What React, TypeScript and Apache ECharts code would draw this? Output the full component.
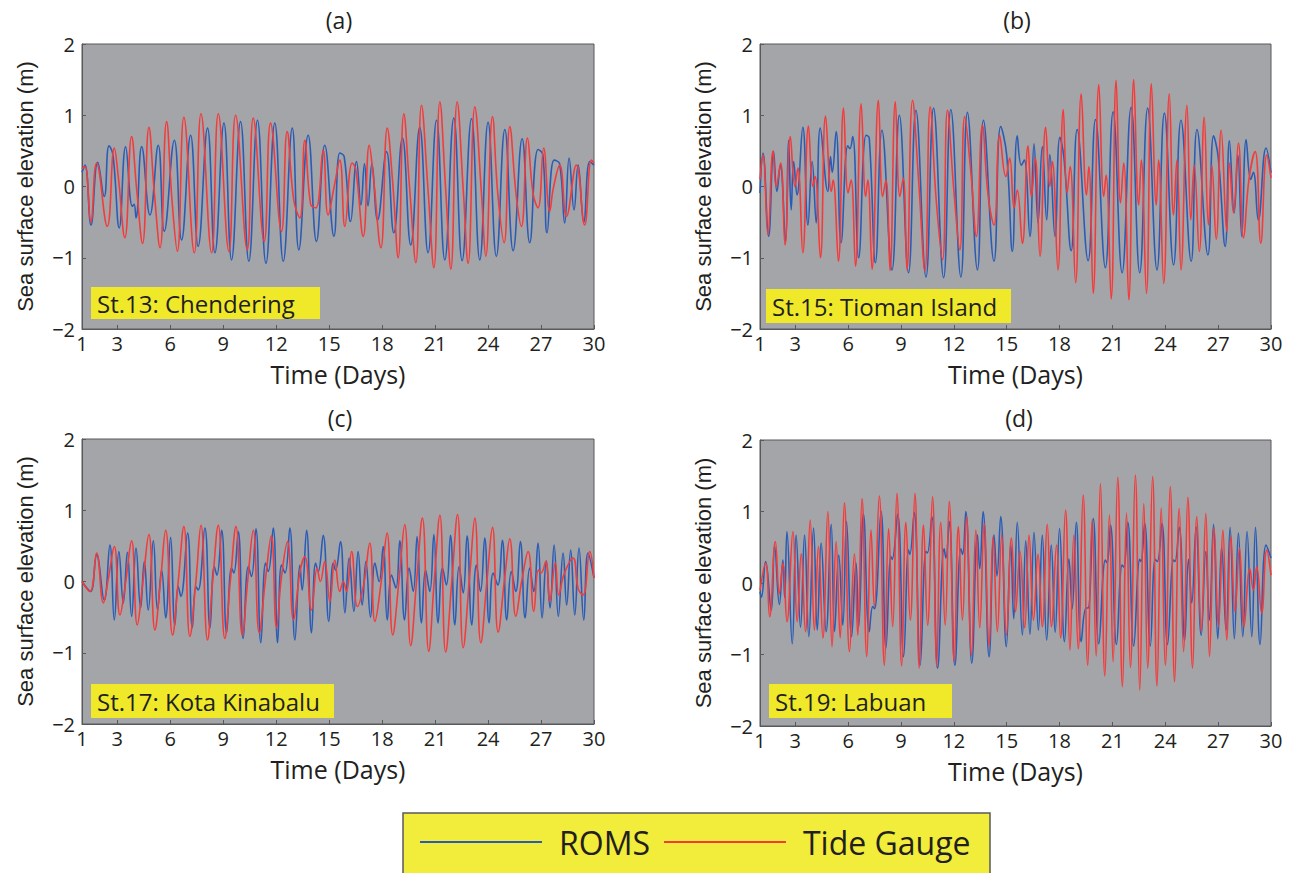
import React, { useEffect, useRef } from "react";
import * as echarts from "echarts";

// ---------- data (time in days, sea surface elevation in m) ----------
const xTicks = [1, 3, 6, 9, 12, 15, 18, 21, 24, 27, 30];
const panelTitles = ["(a)", "(b)", "(c)", "(d)"];
const stationNames = ["St.13: Chendering", "St.15: Tioman Island", "St.17: Kota Kinabalu", "St.19: Labuan"];
const seriesNames = ["ROMS", "Tide Gauge"];

const aRoms = [[1.0,0.20],[1.17,0.30],[1.51,-0.54],[1.89,0.34],[2.26,-0.14],[2.53,0.57],[2.75,0.45],[3.11,-0.58],[3.47,0.56],[3.85,-0.28],[3.95,-0.25],[4.06,-0.44],[4.38,0.56],[4.85,-0.40],[5.32,0.58],[5.66,-0.63],[6.23,0.65],[6.64,-0.75],[7.15,0.72],[7.58,-0.84],[8.11,0.82],[8.53,-0.93],[9.04,0.89],[9.47,-1.03],[9.98,0.91],[10.45,-1.05],[10.94,0.93],[11.42,-1.08],[11.92,0.89],[12.40,-1.05],[12.91,0.82],[13.28,-0.89],[13.81,0.72],[14.28,-0.77],[14.75,0.58],[15.27,-0.70],[15.6,0.47],[15.85,0.42],[16.21,-0.49],[16.55,0.35],[16.8,-0.26],[17.0,0.32],[17.2,-0.27],[17.42,0.32],[17.74,-0.47],[18.25,0.49],[18.66,-0.65],[19.15,0.68],[19.62,-0.82],[20.13,0.83],[20.6,-0.93],[21.08,0.93],[21.55,-1.03],[22.06,0.96],[22.53,-1.04],[23.06,0.95],[23.53,-1.03],[24.0,0.90],[24.47,-0.98],[24.95,0.80],[25.42,-0.90],[25.93,0.67],[26.36,-0.79],[26.83,0.52],[27.1,0.45],[27.34,-0.65],[27.74,0.37],[28.05,0.32],[28.34,-0.51],[28.59,0.40],[28.87,-0.33],[29.1,0.30],[29.42,-0.50],[29.76,0.35],[30.0,0.30]];
const aTide = [[1.0,0.25],[1.17,0.28],[1.5,-0.50],[1.83,0.33],[2.43,-0.56],[2.83,0.54],[3.05,0.15],[3.43,-0.72],[3.81,0.70],[4.1,-0.05],[4.43,-0.80],[4.79,0.83],[5.1,-0.10],[5.42,-0.86],[5.79,0.91],[6.1,-0.20],[6.40,-0.91],[6.77,0.97],[7.36,-0.93],[7.74,1.02],[8.34,-0.93],[8.72,1.02],[9.32,-0.91],[9.70,1.00],[10.36,-0.89],[10.70,0.96],[11.32,-0.77],[11.68,0.89],[12.30,-0.63],[12.62,0.77],[13.0,-0.20],[13.34,-0.44],[13.62,0.65],[13.95,-0.25],[14.25,-0.30],[14.66,0.51],[14.94,-0.40],[15.3,0.02],[15.6,0.37],[15.89,-0.56],[16.3,0.33],[16.5,0.25],[16.93,-0.70],[17.27,0.58],[17.5,0.14],[17.93,-0.86],[18.29,0.82],[18.6,0.05],[18.91,-1.00],[19.23,1.02],[19.55,0.0],[19.91,-1.07],[20.23,1.14],[20.6,-0.05],[20.93,-1.14],[21.27,1.19],[21.6,-0.05],[21.89,-1.16],[22.25,1.19],[22.6,-0.07],[22.87,-1.08],[23.25,1.12],[23.62,-0.07],[23.87,-0.98],[24.25,0.98],[24.55,-0.10],[24.91,-0.79],[25.23,0.84],[25.6,-0.14],[25.89,-0.56],[26.23,0.68],[26.55,-0.10],[26.83,-0.30],[27.15,0.54],[27.49,-0.35],[27.7,-0.02],[28.06,0.30],[28.44,-0.42],[29.0,0.30],[29.47,-0.54],[29.85,0.37],[30.0,0.33]];

const bRoms = [[1.0,-0.09],[1.17,0.47],[1.49,-0.70],[1.77,0.49],[1.96,-0.07],[2.15,0.30],[2.45,-0.77],[2.62,0.65],[2.77,-0.33],[2.91,0.35],[3.1,-0.12],[3.43,0.83],[3.72,-0.54],[3.96,0.35],[4.19,-0.51],[4.42,0.82],[4.85,-0.07],[5.0,0.42],[5.1,0.20],[5.32,0.77],[5.6,-0.79],[5.98,0.57],[6.1,0.53],[6.26,0.70],[6.6,-1.00],[7.02,0.72],[7.2,0.68],[7.55,-1.07],[7.92,0.79],[8.49,-1.17],[8.91,1.00],[9.43,-1.21],[9.85,1.07],[10.42,-1.27],[10.85,1.10],[11.42,-1.28],[11.83,1.08],[12.4,-1.27],[12.77,1.04],[13.34,-1.17],[13.68,0.93],[14.28,-1.05],[14.66,0.84],[15.0,0.44],[15.32,-0.91],[15.6,0.71],[15.83,0.30],[16.0,0.37],[16.32,-0.70],[16.55,0.60],[16.78,-0.51],[17.02,0.56],[17.27,-0.47],[17.45,0.45],[17.74,-0.70],[18.02,0.69],[18.25,0.40],[18.66,-0.90],[19.0,0.80],[19.62,-1.04],[20.04,0.94],[20.6,-1.14],[21.04,1.05],[21.55,-1.21],[22.06,1.11],[22.55,-1.21],[23.0,1.10],[23.53,-1.17],[23.95,1.03],[24.47,-1.10],[24.89,0.93],[25.47,-1.05],[25.8,0.80],[26.42,-0.96],[26.74,0.71],[27.0,0.42],[27.4,-0.84],[27.64,0.64],[27.91,-0.37],[28.12,0.44],[28.34,-0.70],[28.59,0.66],[28.85,0.10],[29.0,0.20],[29.28,-0.47],[29.72,0.54],[30.0,0.19]];
const bTide = [[1.0,0.10],[1.17,0.44],[1.45,-0.68],[1.74,0.50],[1.92,0.0],[2.17,0.33],[2.42,-0.82],[2.72,0.70],[2.98,0.0],[3.15,0.26],[3.43,-0.93],[3.75,0.85],[4.0,0.0],[4.13,0.14],[4.43,-1.00],[4.72,0.99],[5.05,-0.07],[5.15,0.09],[5.45,-1.05],[5.74,1.10],[6.0,-0.09],[6.17,0.09],[6.42,-1.12],[6.74,1.16],[7.0,-0.14],[7.12,0.09],[7.36,-1.16],[7.72,1.21],[7.96,-0.14],[8.15,0.09],[8.38,-1.18],[8.68,1.19],[8.94,-0.14],[9.13,0.12],[9.34,-1.17],[9.66,1.21],[10.0,0.09],[10.36,-1.18],[10.66,1.12],[11.0,-0.19],[11.36,-1.03],[11.64,1.07],[12.0,-0.05],[12.34,-0.89],[12.62,0.98],[12.97,0.19],[13.28,-0.70],[13.62,0.86],[13.95,-0.14],[14.28,-0.54],[14.6,0.72],[14.95,0.14],[15.17,0.40],[15.42,-0.30],[15.6,-0.05],[15.89,-0.80],[16.21,0.57],[16.4,-0.14],[16.62,0.40],[16.89,-0.98],[17.21,0.83],[17.45,0.0],[17.59,0.35],[17.91,-1.17],[18.21,1.08],[18.43,-0.09],[18.6,0.28],[18.91,-1.35],[19.23,1.30],[19.53,-0.12],[19.66,0.28],[19.91,-1.50],[20.23,1.43],[20.51,-0.14],[20.64,0.16],[20.93,-1.58],[21.21,1.49],[21.46,-0.23],[21.64,0.33],[21.93,-1.59],[22.21,1.50],[22.49,-0.26],[22.64,0.37],[22.93,-1.50],[23.21,1.44],[23.49,-0.26],[23.62,0.37],[23.91,-1.36],[24.23,1.30],[24.47,-0.40],[24.66,0.37],[24.89,-1.17],[25.23,1.14],[25.45,-0.47],[25.64,0.30],[25.93,-0.91],[26.21,0.97],[26.45,-0.54],[26.64,0.30],[26.89,-0.74],[27.17,0.79],[27.49,-0.63],[27.64,0.33],[27.87,-0.37],[28.15,0.61],[28.44,-0.72],[28.75,0.10],[29.1,0.49],[29.42,-0.80],[29.76,0.44],[30.0,0.12]];

const cRoms = [[1.0,0.0],[1.3,-0.10],[1.5,-0.14],[1.83,0.37],[2.26,-0.26],[2.58,0.51],[2.83,-0.54],[3.09,0.42],[3.34,-0.30],[3.57,0.41],[3.81,-0.49],[4.06,0.47],[4.32,-0.37],[4.53,0.28],[4.75,-0.40],[5.04,0.57],[5.28,-0.40],[5.51,0.16],[5.74,-0.51],[6.02,0.62],[6.26,-0.61],[6.45,-0.07],[6.6,-0.21],[6.98,0.68],[7.25,-0.65],[7.45,-0.07],[7.58,-0.12],[7.96,0.75],[8.25,-0.65],[8.49,0.21],[8.64,0.09],[8.91,0.72],[9.19,-0.72],[9.47,0.19],[9.6,0.12],[9.85,0.70],[10.13,-0.80],[10.42,0.21],[10.6,0.07],[10.85,0.74],[11.13,-0.86],[11.4,0.26],[11.55,0.14],[11.83,0.75],[12.08,-0.86],[12.3,0.23],[12.5,0.12],[12.77,0.75],[13.06,-0.82],[13.34,0.23],[13.47,-0.12],[13.72,0.72],[14.0,-0.72],[14.23,0.26],[14.38,0.14],[14.66,0.65],[14.98,-0.56],[15.23,0.26],[15.36,0.16],[15.64,0.56],[15.89,-0.44],[16.13,0.33],[16.4,-0.42],[16.64,0.42],[16.87,-0.33],[17.08,0.28],[17.34,-0.50],[17.59,0.26],[17.83,0.0],[18.06,0.49],[18.29,-0.54],[18.53,0.09],[18.78,-0.09],[19.0,0.57],[19.27,-0.54],[19.53,0.19],[19.76,-0.14],[19.98,0.63],[20.23,-0.58],[20.46,0.16],[20.7,-0.14],[20.93,0.66],[21.17,-0.58],[21.42,0.19],[21.64,-0.05],[21.87,0.65],[22.12,-0.61],[22.36,0.21],[22.59,-0.16],[22.81,0.64],[23.08,-0.61],[23.34,0.23],[23.57,-0.14],[23.81,0.61],[24.06,-0.58],[24.29,0.12],[24.55,-0.05],[24.81,0.58],[25.06,-0.54],[25.32,0.14],[25.57,-0.14],[25.83,0.56],[26.1,-0.51],[26.36,0.19],[26.59,-0.14],[26.83,0.54],[27.06,-0.51],[27.3,0.29],[27.51,-0.37],[27.74,0.51],[27.98,-0.49],[28.25,0.40],[28.45,-0.33],[28.68,0.44],[28.91,-0.47],[29.15,0.47],[29.42,-0.54],[29.66,0.40],[30.0,0.05]];
const cTide = [[1.0,0.0],[1.45,-0.14],[1.83,0.40],[2.21,-0.30],[2.5,0.05],[2.83,0.49],[3.15,-0.47],[3.45,-0.05],[3.81,0.57],[4.13,-0.61],[4.45,0.0],[4.79,0.66],[5.13,-0.68],[5.45,0.02],[5.74,0.72],[6.13,-0.75],[6.45,0.0],[6.77,0.77],[7.11,-0.77],[7.45,0.0],[7.74,0.79],[8.11,-0.82],[8.4,0.0],[8.72,0.79],[9.09,-0.80],[9.4,0.0],[9.72,0.77],[10.08,-0.75],[10.4,0.05],[10.7,0.72],[11.04,-0.72],[11.4,0.05],[11.72,0.64],[12.02,-0.65],[12.3,0.07],[12.64,0.56],[12.98,-0.54],[13.35,0.14],[13.62,0.35],[14.0,-0.40],[14.32,0.19],[14.5,0.0],[14.75,0.28],[15.04,-0.28],[15.32,0.30],[15.6,-0.14],[15.8,0.0],[15.98,-0.14],[16.27,0.42],[16.6,-0.35],[16.95,-0.05],[17.3,0.54],[17.59,-0.56],[17.95,0.0],[18.28,0.68],[18.6,-0.75],[18.95,0.0],[19.28,0.80],[19.62,-0.90],[19.95,0.0],[20.28,0.89],[20.64,-0.98],[20.95,0.0],[21.27,0.93],[21.6,-0.99],[21.95,0.02],[22.27,0.94],[22.59,-0.93],[22.95,0.05],[23.25,0.89],[23.59,-0.86],[23.95,0.05],[24.25,0.76],[24.57,-0.71],[24.95,0.07],[25.23,0.60],[25.57,-0.49],[25.9,0.0],[26.27,0.42],[26.59,-0.42],[26.85,0.16],[27.0,0.12],[27.27,0.28],[27.49,-0.28],[27.81,0.26],[28.0,-0.19],[28.3,0.10],[28.81,0.33],[29.1,-0.10],[29.38,-0.19],[29.76,0.42],[30.0,0.05]];

const dRoms = [[1.0,-0.12],[1.08,-0.20],[1.32,0.30],[1.64,-0.38],[1.83,0.51],[2.1,-0.30],[2.3,0.32],[2.4,-0.20],[2.53,0.72],[2.83,-0.85],[3.05,0.67],[3.3,-0.62],[3.53,0.67],[3.77,-0.75],[4.04,0.77],[4.25,-0.66],[4.47,0.56],[4.75,-0.68],[5.04,0.82],[5.23,-0.68],[5.47,0.39],[5.7,-0.59],[5.91,0.86],[6.2,-0.75],[6.45,0.28],[6.6,-0.61],[6.87,0.96],[7.2,-0.68],[7.4,-0.33],[7.5,-0.36],[7.87,1.00],[8.15,-0.91],[8.43,0.37],[8.5,0.33],[8.81,0.96],[9.15,-1.03],[9.43,0.46],[9.5,0.40],[9.75,0.99],[10.09,-1.15],[10.42,0.44],[10.5,0.42],[10.75,0.93],[11.08,-1.19],[11.45,0.48],[11.55,0.35],[11.74,0.86],[12.06,-1.15],[12.4,0.48],[12.5,0.40],[12.68,1.00],[13.02,-1.12],[13.34,0.67],[13.47,0.20],[13.66,1.00],[14.0,-1.03],[14.28,0.67],[14.45,0.10],[14.66,0.93],[14.98,-0.89],[15.23,0.54],[15.4,-0.50],[15.6,0.85],[15.89,-0.73],[16.08,0.59],[16.32,-0.72],[16.55,0.71],[16.8,-0.66],[17.02,0.67],[17.27,-0.80],[17.53,0.53],[17.75,-0.69],[18.0,0.76],[18.28,-0.82],[18.53,0.34],[18.72,-0.36],[18.95,0.85],[19.23,-0.82],[19.5,-0.35],[19.62,-0.35],[19.91,0.90],[20.23,-0.85],[20.6,0.32],[20.7,0.28],[20.89,0.81],[21.23,-0.86],[21.55,0.25],[21.65,0.22],[21.87,0.85],[22.21,-0.88],[22.55,0.33],[22.62,0.30],[22.83,0.83],[23.15,-0.88],[23.43,0.33],[23.55,0.30],[23.81,0.83],[24.13,-0.86],[24.47,0.32],[24.55,0.30],[24.79,0.78],[25.1,-0.80],[25.32,0.33],[25.5,-0.28],[25.75,0.78],[26.04,-0.73],[26.3,0.44],[26.5,-0.52],[26.74,0.82],[26.98,-0.78],[27.2,0.50],[27.45,-0.66],[27.68,0.78],[27.92,-0.78],[28.15,0.70],[28.4,-0.75],[28.64,0.72],[28.91,-0.75],[29.12,0.78],[29.38,-0.86],[29.72,0.53],[30.0,0.35]];
const dTide = [[1.0,-0.10],[1.32,0.28],[1.55,-0.47],[1.87,0.58],[2.1,-0.15],[2.3,0.28],[2.53,-0.54],[2.87,0.72],[3.11,-0.54],[3.34,0.41],[3.58,-0.68],[3.85,0.88],[4.09,-0.66],[4.32,0.51],[4.57,-0.77],[4.85,1.00],[5.09,-0.89],[5.32,0.58],[5.55,-0.77],[5.79,1.12],[6.08,-0.96],[6.36,0.41],[6.55,-0.73],[6.79,1.18],[7.06,-1.03],[7.3,0.74],[7.49,-0.33],[7.77,1.22],[8.06,-1.15],[8.3,0.76],[8.53,-0.61],[8.77,1.25],[9.04,-1.16],[9.28,0.85],[9.53,-0.52],[9.79,1.25],[10.04,-1.19],[10.28,0.81],[10.51,-0.59],[10.79,1.21],[11.02,-1.17],[11.26,0.85],[11.51,-0.59],[11.74,1.14],[12.02,-1.10],[12.26,0.79],[12.49,-0.52],[12.72,0.93],[13.0,-1.01],[13.25,0.74],[13.47,-0.63],[13.72,0.83],[14.0,-0.89],[14.23,0.65],[14.47,-0.68],[14.72,0.67],[14.98,-0.73],[15.27,0.63],[15.5,-0.40],[15.76,0.44],[16.02,-0.63],[16.27,0.67],[16.52,-0.52],[16.78,0.40],[17.02,-0.61],[17.3,0.82],[17.55,-0.61],[17.83,0.53],[18.06,-0.77],[18.34,1.02],[18.59,-0.94],[18.81,0.67],[19.06,-0.92],[19.34,1.23],[19.6,-1.15],[19.85,0.88],[20.08,-1.02],[20.32,1.39],[20.57,-1.30],[20.83,0.95],[21.04,-1.10],[21.3,1.48],[21.57,-1.45],[21.8,0.98],[22.02,-1.18],[22.3,1.51],[22.55,-1.50],[22.78,1.11],[23.0,-1.19],[23.28,1.49],[23.53,-1.44],[23.77,1.05],[24.0,-1.15],[24.28,1.35],[24.53,-1.38],[24.79,1.04],[25.04,-0.96],[25.28,1.20],[25.55,-1.19],[25.79,0.93],[26.04,-0.68],[26.3,0.97],[26.51,-1.03],[26.77,0.77],[27.02,-0.61],[27.27,0.74],[27.49,-0.80],[27.72,0.65],[27.96,-0.40],[28.21,0.49],[28.47,-0.61],[28.8,0.20],[29.0,-0.10],[29.19,0.23],[29.47,-0.42],[29.76,0.46],[30.0,0.11]];

const romsData = [aRoms, bRoms, cRoms, dRoms];
const tideData = [aTide, bTide, cTide, dTide];

// ---------- styling / layout ----------
const BLUE = "#2b5cb5";
const RED = "#f23c3c";
const PLOT_BG = "#a4a5a9";
const YELLOW = "#efe92a";
const INK = "#231f20";
const SANS = "'Open Sans', 'Noto Sans', sans-serif";

const grids = [
  { left: 82, top: 44, width: 512, height: 285 },
  { left: 760, top: 44, width: 511, height: 285 },
  { left: 82, top: 439, width: 512, height: 285 },
  { left: 760, top: 440, width: 511, height: 286 },
];
const titlePos = [[339, 20], [1017, 20], [340, 418], [1019, 418]];
const boxPos = [
  { x: 91, y: 287, w: 229, h: 32 },
  { x: 766, y: 289, w: 245, h: 34 },
  { x: 91, y: 684, w: 243, h: 34 },
  { x: 769, y: 684, w: 183, h: 34 },
];

const fmtY = (v: number) => (v < 0 ? "\u2212" + Math.abs(v) : String(v));

export default function App() {
  const ref = useRef<HTMLDivElement>(null);
  useEffect(() => {
    if (!ref.current) return;
    const chart = echarts.init(ref.current, undefined, { renderer: "svg" });

    const xAxis = grids.map((_, i) => ({
      type: "value",
      gridIndex: i,
      min: 1,
      max: 30,
      name: "Time (Days)",
      nameLocation: "middle",
      nameGap: 32,
      nameTextStyle: { fontFamily: SANS, fontSize: 25, color: INK, lineHeight: 25 },
      axisLine: { show: true, onZero: false, lineStyle: { color: "#58595b", width: 1 } },
      axisTick: { show: true, inside: true, length: 4, customValues: xTicks, lineStyle: { color: "#58595b" } },
      axisLabel: { customValues: xTicks, fontFamily: SANS, fontSize: 20, color: INK, margin: 4, lineHeight: 20 },
      splitLine: { show: false },
    }));
    const yAxis = grids.map((_, i) => ({
      type: "value",
      gridIndex: i,
      min: -2,
      max: 2,
      interval: 1,
      name: "Sea surface elevation (m)",
      nameLocation: "middle",
      nameGap: 46,
      nameTextStyle: { fontFamily: "'Liberation Sans', Arial, sans-serif", fontSize: 22, color: INK },
      axisLine: { show: true, onZero: false, lineStyle: { color: "#58595b", width: 1 } },
      axisTick: { show: true, inside: true, length: 4, lineStyle: { color: "#58595b" } },
      axisLabel: { formatter: fmtY, fontFamily: SANS, fontSize: 20, color: INK, margin: 7 },
      splitLine: { show: false },
    }));

    const series: any[] = [];
    grids.forEach((_, i) => {
      series.push({
        name: seriesNames[0], type: "line", xAxisIndex: i, yAxisIndex: i,
        data: romsData[i], showSymbol: false, symbol: "none", smooth: 0.45,
        lineStyle: { color: BLUE, width: 1.6 }, itemStyle: { color: BLUE }, z: 2,
      });
      series.push({
        name: seriesNames[1], type: "line", xAxisIndex: i, yAxisIndex: i,
        data: tideData[i], showSymbol: false, symbol: "none", smooth: 0.45,
        lineStyle: { color: RED, width: 1.6 }, itemStyle: { color: RED }, z: 3,
      });
    });

    const graphic: any[] = [];
    titlePos.forEach(([x, y], i) => {
      graphic.push({
        type: "text", x, y, z: 10,
        style: { text: panelTitles[i], fontFamily: SANS, fontSize: 23, fill: INK, align: "center", verticalAlign: "middle" },
      });
    });
    boxPos.forEach((b, i) => {
      graphic.push({ type: "rect", z: 50, shape: { x: b.x, y: b.y, width: b.w, height: b.h }, style: { fill: YELLOW } });
      graphic.push({
        type: "text", z: 51, x: b.x + 6, y: b.y + b.h / 2,
        style: { text: stationNames[i], fontFamily: SANS, fontSize: 24, fill: INK, align: "left", verticalAlign: "middle" },
      });
    });
    graphic.push({
      type: "rect", z: 0,
      shape: { x: 403, y: 813, width: 587, height: 80 },
      style: { fill: "#f2ec3a", stroke: "#58595b", lineWidth: 1.5 },
    });

    chart.setOption({
      animation: false,
      backgroundColor: "#ffffff",
      grid: grids.map((g) => ({ ...g, show: true, backgroundColor: PLOT_BG, borderColor: "#58595b", borderWidth: 1 })),
      xAxis,
      yAxis,
      legend: {
        data: seriesNames,
        left: 420,
        top: 826,
        padding: 0,
        icon: "rect",
        itemWidth: 122,
        itemHeight: 2,
        itemGap: 14,
        textStyle: { fontFamily: SANS, fontSize: 32, color: INK, padding: [0, 0, 0, 12] },
        z: 20,
      },
      graphic,
      series,
    });
    return () => chart.dispose();
  }, []);
  return <div ref={ref} style={{ position: "fixed", left: 0, top: 0, width: 1303, height: 873 }} />;
}
